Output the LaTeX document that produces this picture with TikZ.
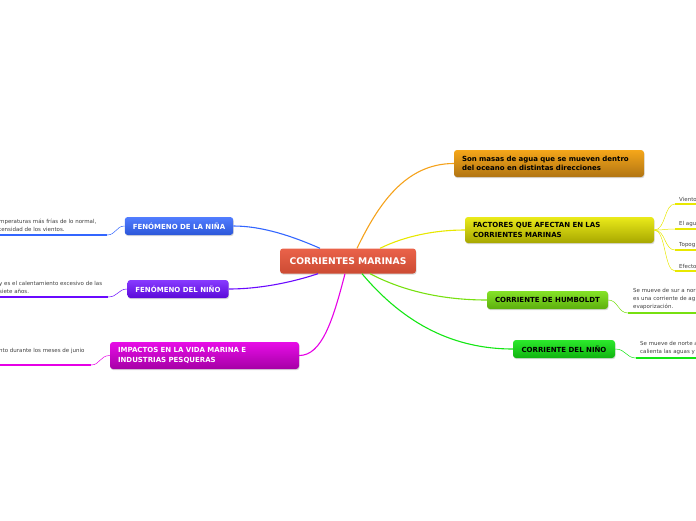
\documentclass[tikz,border=0pt]{standalone}
\usepackage{fontspec}
\setmainfont{DejaVu Sans}
\usetikzlibrary{positioning,shadows}

\definecolor{cmain}{HTML}{E8553A}
\definecolor{corange}{HTML}{F5A21B}
\definecolor{cyellow}{HTML}{E8E800}
\definecolor{chum}{HTML}{77E010}
\definecolor{cnino}{HTML}{14E614}
\definecolor{cblue}{HTML}{3366FF}
\definecolor{cpurple}{HTML}{6A0AFF}
\definecolor{cmagenta}{HTML}{E600E6}

\begin{document}
\begin{tikzpicture}[
    x=1pt, y=-1pt,
    every node/.style={inner sep=0pt},
    topic/.style={
        rectangle, rounded corners=3pt, minimum height=18pt, inner xsep=8pt,
        drop shadow={opacity=0.3, shadow xshift=0.6pt, shadow yshift=-1.2pt},
        font=\fontsize{7}{9.2}\selectfont\bfseries, align=center
    },
    leaf/.style={font=\fontsize{5.5}{7.8}\selectfont, text=black!75, align=left, anchor=south west, inner sep=0pt},
    branch/.style={line width=1.1pt},
    twig/.style={line width=0.5pt},
    baseline/.style={line width=2.6pt}
]
\useasboundingbox (0,0) rectangle (696,520);
\clip (0,0) rectangle (696,520);

% nodo central
\node[topic, minimum width=136pt, minimum height=25pt, top color=cmain!92!white, bottom color=cmain!88!black,
      text=white, font=\fontsize{9.2}{11}\selectfont\bfseries] (main) at (348,261) {CORRIENTES MARINAS};

% ramas derechas
\node[topic, minimum width=190pt, minimum height=27pt, text width=174pt, align=left,
      top color=corange!95!yellow, bottom color=corange!72!black] (masas) at (549,163.5)
      {Son masas de agua que se mueven dentro\\del oceano en distintas direcciones};
\node[topic, minimum width=189pt, minimum height=26pt, text width=173pt, align=left,
      top color=cyellow!90!white, bottom color=cyellow!72!black] (factores) at (559.5,230)
      {FACTORES QUE AFECTAN EN LAS\\CORRIENTES MARINAS};
\node[topic, minimum width=121pt, top color=chum!90!white, bottom color=chum!78!black] (humboldt) at (547.5,300)
      {CORRIENTE DE HUMBOLDT};
\node[topic, minimum width=102pt, top color=cnino!90!white, bottom color=cnino!78!black] (corrnino) at (564,349)
      {CORRIENTE DEL NIÑO};

% ramas izquierdas
\node[topic, minimum width=108pt, top color=cblue!85!white, bottom color=cblue!85!black, text=white] (nina) at (179,226)
      {FENÓMENO DE LA NIÑA};
\node[topic, minimum width=100pt, top color=cpurple!80!white, bottom color=cpurple!85!black, text=white] (fennino) at (178,289)
      {FENÓMENO DEL NIÑO};
\node[topic, minimum width=189pt, minimum height=27pt, text width=173pt, align=left,
      top color=cmagenta!95!white, bottom color=cmagenta!72!black, text=white] (impactos) at (204.5,355.5)
      {IMPACTOS EN LA VIDA MARINA E\\INDUSTRIAS PESQUERAS};

% conectores principales
\draw[branch, corange] ([xshift=9pt]main.north) .. controls (378,205) and (405,163.5) .. (masas.west);
\draw[branch, cyellow] ([xshift=32pt]main.north) .. controls (405,236) and (435,230) .. (factores.west);
\draw[branch, chum] ([xshift=22pt]main.south) .. controls (405,292) and (445,300) .. (humboldt.west);
\draw[branch, cnino] ([xshift=14pt]main.south) .. controls (405,325) and (455,349) .. (corrnino.west);
\draw[branch, cblue] ([xshift=-28pt]main.north) .. controls (292,236) and (262,226) .. (nina.east);
\draw[branch, cpurple] ([xshift=-30pt]main.south) .. controls (290,283) and (258,289) .. (fennino.east);
\draw[branch, cmagenta] ([xshift=-3pt]main.south) .. controls (333,320) and (322,355.5) .. (impactos.east);

% hojas de factores
\foreach \n/\y/\txt in {1/204/Viento, 2/229/El agu, 3/250/Topog, 4/271/Efecto} {
    \coordinate (f\n) at (675,\y);
    \draw[twig, cyellow] (factores.east) .. controls (666,230) and (664,\y) .. (f\n);
    \draw[baseline, cyellow] (f\n) -- ++(30,0);
    \node[leaf] at ([xshift=4pt,yshift=2.5pt]f\n) {\txt};
}

% hojas de las corrientes
\coordinate (h1) at (628,313);
\draw[twig, chum] (humboldt.east) .. controls (618,300) and (618,313) .. (h1);
\draw[baseline, chum] (h1) -- ++(80,0);
\node[leaf] at ([xshift=5pt,yshift=3.5pt]h1) {Se mueve de sur a nor\\es una corriente de ag\\evaporización.};

\coordinate (n1) at (636,358);
\draw[twig, cnino] (corrnino.east) .. controls (626,349) and (626,358) .. (n1);
\draw[baseline, cnino] (n1) -- ++(70,0);
\node[leaf] at ([xshift=4pt,yshift=3.5pt]n1) {Se mueve de norte a\\calienta las aguas y};

% hojas izquierdas
\coordinate (l1) at (107,235);
\draw[twig, cblue] (nina.west) .. controls (116,226) and (116,235) .. (l1);
\draw[baseline, cblue] (l1) -- ++(-110,0);
\node[leaf] at (-1,232) {mperaturas más frías de lo normal,\\tensidad de los vientos.};

\coordinate (l2) at (108,297);
\draw[twig, cpurple] (fennino.west) .. controls (118,289) and (118,297) .. (l2);
\draw[baseline, cpurple] (l2) -- ++(-111,0);
\node[leaf] at (-1,294) {y es el calentamiento excesivo de las\\siete años.};

\coordinate (l3) at (91,365);
\draw[twig, cmagenta] (impactos.west) .. controls (100,355.5) and (100,365) .. (l3);
\draw[baseline, cmagenta] (l3) -- ++(-94,0);
\node[leaf] at (-1,354) {nto durante los meses de junio};

\end{tikzpicture}
\end{document}
